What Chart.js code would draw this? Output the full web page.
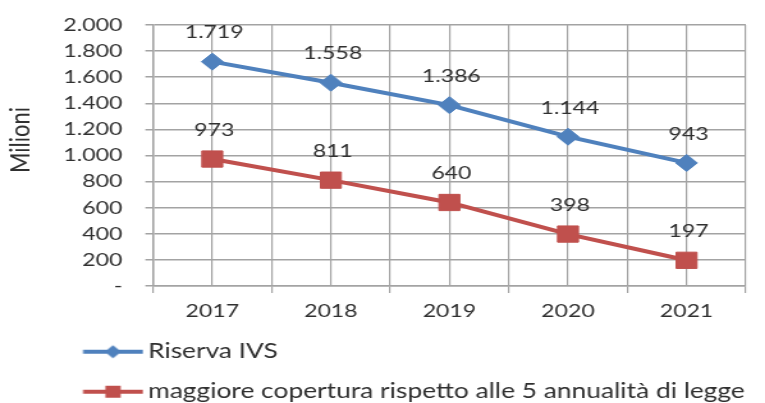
<!DOCTYPE html>
<html><head><meta charset="utf-8">
<script src="https://cdn.jsdelivr.net/npm/chart.js@4.4.1/dist/chart.umd.min.js"></script>
<style>
html,body{margin:0;padding:0;background:#fff;overflow:hidden;width:765px;height:403px}
#wrap{position:absolute;left:0;top:0;width:598px;height:412px;transform:scaleX(1.2793);transform-origin:0 0}
canvas{display:block}
</style></head><body>
<div id="wrap"><canvas id="c" width="598" height="412" style="width:598px;height:412px"></canvas></div>
<script>
// ---- data ----
const categories = ['2017', '2018', '2019', '2020', '2021'];
const riservaIVS = [1719, 1558, 1386, 1144, 943];
const maggioreCopertura = [973, 811, 640, 398, 197];
const seriesNames = ['Riserva IVS', 'maggiore copertura rispetto alle 5 annualità di legge'];
const yTickValues = [0, 200, 400, 600, 800, 1000, 1200, 1400, 1600, 1800, 2000];
const yAxisTitle = 'Milioni';

// ---- styling ----
const BLUE = '#4F81BD', RED = '#C0504D', TEXT = '#303030', GRID = '#a3a3a3';
const FONT = 'Lato';

function fmt(v) {
  if (v === 0) return '-';
  return String(v).replace(/\B(?=(\d{3})+(?!\d))/g, '.');
}

const LF = 20.6;
const LPAD = 40 - LF;
const LBOX = 115.7 - LPAD - LF / 2;
const LCENTER = LPAD + LBOX / 2;
const LW = Math.ceil(2 * (111.8 - LCENTER)) + 1;
const LLEFT = LCENTER - LW / 2;

function legendImg(color, kind) {
  const c = document.createElement('canvas');
  c.width = LW; c.height = 22;
  const g = c.getContext('2d');
  g.strokeStyle = color; g.lineWidth = 4;
  g.beginPath(); g.moveTo(64.9 - LLEFT, 11); g.lineTo(111.8 - LLEFT, 11); g.stroke();
  g.fillStyle = color;
  g.beginPath();
  const x = 88.3 - LLEFT, y = 11;
  if (kind === 'diamond') {
    const r = 6.5;
    g.moveTo(x - r, y); g.lineTo(x, y - r); g.lineTo(x + r, y); g.lineTo(x, y + r); g.closePath();
  } else {
    const s = 6;
    g.rect(x - s, y - s, 2 * s, 2 * s);
  }
  g.fill();
  return c;
}
const legendImages = [legendImg(BLUE, 'diamond'), legendImg(RED, 'square')];

const dataLabels = {
  id: 'dataLabels',
  afterDatasetsDraw(chart) {
    const ctx = chart.ctx;
    ctx.save();
    ctx.font = '18px ' + FONT;
    ctx.fillStyle = TEXT;
    ctx.textAlign = 'center';
    ctx.textBaseline = 'middle';
    chart.data.datasets.forEach((ds, di) => {
      const meta = chart.getDatasetMeta(di);
      meta.data.forEach((pt, i) => {
        ctx.fillText(fmt(ds.data[i]), pt.x + 1.5, pt.y - 29);
      });
    });
    ctx.restore();
  }
};

const yTitle = {
  id: 'yTitle',
  afterDraw(chart) {
    const ctx = chart.ctx;
    ctx.save();
    ctx.translate(15.6, 140);
    ctx.rotate(-Math.PI / 2);
    ctx.font = '22px ' + FONT;
    ctx.fillStyle = TEXT;
    ctx.textAlign = 'center';
    ctx.textBaseline = 'middle';
    ctx.fillText(yAxisTitle, 0, 0);
    ctx.restore();
  }
};

new Chart(document.getElementById('c'), {
  type: 'line',
  data: {
    labels: categories,
    datasets: [
      {
        label: seriesNames[0], data: riservaIVS,
        borderColor: BLUE, backgroundColor: BLUE, borderWidth: 4,
        pointStyle: 'rectRot', pointRadius: 8.5, pointBorderWidth: 1,
        pointBackgroundColor: BLUE, pointBorderColor: BLUE, tension: 0, fill: false
      },
      {
        label: seriesNames[1], data: maggioreCopertura,
        borderColor: RED, backgroundColor: RED, borderWidth: 4,
        pointStyle: 'rect', pointRadius: 11.5, pointBorderWidth: 1,
        pointBackgroundColor: RED, pointBorderColor: RED, tension: 0, fill: false
      }
    ]
  },
  options: {
    responsive: false,
    animation: false,
    devicePixelRatio: 1,
    layout: { padding: { top: 25, right: 15, left: 0, bottom: 0 } },
    plugins: {
      tooltip: { enabled: false },
      legend: {
        position: 'bottom',
        align: 'start',
        labels: {
          font: { family: FONT, size: LF },
          color: TEXT,
          padding: LPAD,
          usePointStyle: true,
          pointStyleWidth: LBOX,
          generateLabels(chart) {
            const items = Chart.defaults.plugins.legend.labels.generateLabels(chart);
            items.forEach((it, i) => { it.pointStyle = legendImages[i]; });
            return items;
          }
        }
      }
    },
    scales: {
      x: {
        type: 'category',
        offset: true,
        grid: { offset: true, color: GRID, lineWidth: 1.2, tickLength: 7, drawTicks: true },
        border: { color: GRID, width: 1.5 },
        ticks: { font: { family: FONT, size: 18 }, color: TEXT, padding: 7, maxRotation: 0 },
        afterFit(s) { s.height = 36; }
      },
      xc: {
        type: 'category',
        position: 'bottom',
        offset: true,
        grid: { offset: false, color: GRID, lineWidth: 1.2, drawTicks: false },
        border: { display: false },
        ticks: { display: false },
        afterFit(s) { s.height = 0; }
      },
      y: {
        min: 0, max: 2000,
        grid: { color: GRID, lineWidth: 1.5, tickLength: 6 },
        border: { color: GRID, width: 1.5 },
        ticks: {
          font: { family: FONT, size: 18, lineHeight: 0.6 }, color: TEXT, padding: 18,
          callback: (v) => fmt(v)
        },
        afterBuildTicks(s) { s.ticks = yTickValues.map(v => ({ value: v })); },
        afterFit(s) { s.width = 119.6; }
      }
    }
  },
  plugins: [dataLabels, yTitle]
});
</script>
</body></html>
